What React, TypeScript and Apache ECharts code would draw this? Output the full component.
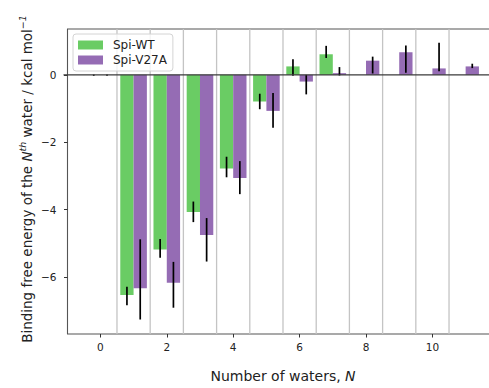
import React, { useEffect, useRef } from "react";
import * as echarts from "echarts";

// Number of bound waters N
const waters = [0, 1, 2, 3, 4, 5, 6, 7, 8, 9, 10, 11];

// Binding free energy of the Nth water (kcal/mol)
const wtEnergy = [0, -6.53, -5.18, -4.07, -2.78, -0.79, 0.25, 0.61, 0, 0, 0, 0];
const v27aEnergy = [0, -6.33, -6.17, -4.75, -3.06, -1.07, -0.2, 0.05, 0.42, 0.67, 0.19, 0.25];

// Error bar bounds (lower, upper); null where no error bar is drawn
const wtErrLow = [-0.03, -6.84, -5.43, -4.37, -3.04, -1.02, -0.03, 0.5, null, null, null, null];
const wtErrHigh = [0.01, -6.29, -4.87, -3.76, -2.43, -0.56, 0.46, 0.86, null, null, null, null];
const v27aErrLow = [-0.03, -7.26, -6.91, -5.54, -3.54, -1.57, -0.58, -0.02, 0.04, 0.06, 0.11, 0.2];
const v27aErrHigh = [0.01, -4.88, -5.55, -4.25, -2.56, -0.54, 0.0, 0.23, 0.54, 0.87, 0.95, 0.33];

const xTicks = [0, 2, 4, 6, 8, 10];
const yTicks = [-6, -4, -2, 0];

const seriesNames = ["Spi-WT", "Spi-V27A"];
const colors = ["#6acc64", "#956cb4"];

const FONT = "DejaVu Sans";
const BAR_OFFSET = 0.2;

function errorData(low: (number | null)[], high: (number | null)[]) {
  const out: number[][] = [];
  waters.forEach((n, i) => {
    const lo = low[i];
    const hi = high[i];
    if (lo !== null && hi !== null) out.push([n, lo, hi]);
  });
  return out;
}

function errorSeries(data: number[][], offset: number) {
  return {
    type: "custom",
    silent: true,
    z: 5,
    data,
    renderItem: (_params: any, api: any) => {
      const x = api.value(0) + offset;
      const a = api.coord([x, api.value(1)]);
      const b = api.coord([x, api.value(2)]);
      return {
        type: "line",
        shape: { x1: a[0], y1: a[1], x2: b[0], y2: b[1] },
        style: { stroke: "#000", lineWidth: 1.7 },
      };
    },
  };
}

const fmtMinus = (v: number) => (v < 0 ? "\u2212" + Math.abs(v) : String(v));

export default function App() {
  const ref = useRef<HTMLDivElement>(null);

  useEffect(() => {
    if (!ref.current) return;
    const chart = echarts.init(ref.current, null, { renderer: "svg" });
    const dividers = waters.slice(0, -1).map((n) => n + 0.5);

    chart.setOption({
      animation: false,
      backgroundColor: "#fff",
      textStyle: { fontFamily: FONT },
      // the plot box runs slightly past the visible page on the right
      grid: {
        left: 67.5,
        right: 0.5,
        top: 29,
        bottom: 39,
        show: true,
        borderColor: "#555",
        borderWidth: 1.1,
        backgroundColor: "transparent",
      },
      legend: {
        orient: "vertical",
        left: 73,
        top: 34,
        padding: [5, 6, 5, 5],
        itemWidth: 25,
        itemHeight: 9,
        itemGap: 3,
        icon: "rect",
        borderColor: "#d4d4d4",
        borderWidth: 1,
        borderRadius: 3,
        backgroundColor: "rgba(255,255,255,0.8)",
        textStyle: { fontSize: 12, fontFamily: FONT, color: "#222", padding: [0, 0, 0, 5] },
        data: seriesNames,
      },
      xAxis: {
        type: "value",
        min: -0.99,
        max: 11.99,
        name: "Number of waters, {i|N}",
        nameLocation: "middle",
        nameGap: 35,
        nameTextStyle: {
          fontSize: 14,
          fontFamily: FONT,
          color: "#222",
          rich: { i: { fontSize: 14, fontFamily: FONT, fontStyle: "italic", color: "#222" } },
        },
        axisLine: { show: false, onZero: false },
        axisTick: { show: true, inside: false, length: 3.5, lineStyle: { color: "#333", width: 1 }, customValues: xTicks },
        axisLabel: { fontSize: 10.5, color: "#222", margin: 7, customValues: xTicks, formatter: fmtMinus },
        splitLine: { show: false },
      },
      yAxis: {
        type: "value",
        min: -7.69,
        max: 1.36,
        axisLine: { show: false, onZero: false },
        axisTick: { show: true, inside: false, length: 3.5, lineStyle: { color: "#333", width: 1 }, customValues: yTicks },
        axisLabel: { fontSize: 10.5, color: "#222", margin: 11, customValues: yTicks, formatter: fmtMinus },
        splitLine: { show: false },
      },
      graphic: [
        {
          type: "text",
          x: 26.5,
          y: 179,
          rotation: Math.PI / 2,
          style: {
            text: "Binding free energy of the {i|N}{sup|th} water / kcal mol{sup|\u22121}",
            fontSize: 13.5,
            fontFamily: FONT,
            fill: "#222",
            align: "center",
            verticalAlign: "middle",
            lineHeight: 18,
            rich: {
              i: { fontSize: 13.5, fontFamily: FONT, fontStyle: "italic", lineHeight: 18 },
              sup: { fontSize: 9.5, fontFamily: FONT, fontStyle: "italic", verticalAlign: "top", lineHeight: 18 },
            },
          },
        },
      ],
      series: [
        // vertical separators between groups of bars
        {
          type: "custom",
          silent: true,
          z: 1,
          data: dividers.map((d) => [d]),
          renderItem: (params: any, api: any) => {
            const cs = params.coordSys;
            const x = api.coord([api.value(0), 0])[0];
            return {
              type: "line",
              shape: { x1: x, y1: cs.y, x2: x, y2: cs.y + cs.height },
              style: { stroke: "#c4c4c4", lineWidth: 1.3 },
            };
          },
        },
        {
          name: seriesNames[0],
          type: "bar",
          barWidth: 13.3,
          barGap: "0%",
          itemStyle: { color: colors[0] },
          data: waters.map((n, i) => [n, wtEnergy[i]]),
          z: 2,
        },
        {
          name: seriesNames[1],
          type: "bar",
          barWidth: 13.3,
          barGap: "0%",
          itemStyle: { color: colors[1] },
          data: waters.map((n, i) => [n, v27aEnergy[i]]),
          z: 2,
        },
        errorSeries(errorData(wtErrLow, wtErrHigh), -BAR_OFFSET),
        errorSeries(errorData(v27aErrLow, v27aErrHigh), BAR_OFFSET),
        // horizontal reference line at zero
        {
          type: "custom",
          silent: true,
          z: 6,
          data: [[0]],
          renderItem: (params: any, api: any) => {
            const cs = params.coordSys;
            const y = api.coord([0, api.value(0)])[1];
            return {
              type: "line",
              shape: { x1: cs.x - 4, y1: y, x2: cs.x + cs.width, y2: y },
              style: { stroke: "#3a3a3a", lineWidth: 1.2 },
            };
          },
        },
      ],
    });

    return () => chart.dispose();
  }, []);

  return (
    <div
      ref={ref}
      style={{ position: "fixed", left: 0, top: 0, width: 499, height: 388 }}
    />
  );
}
